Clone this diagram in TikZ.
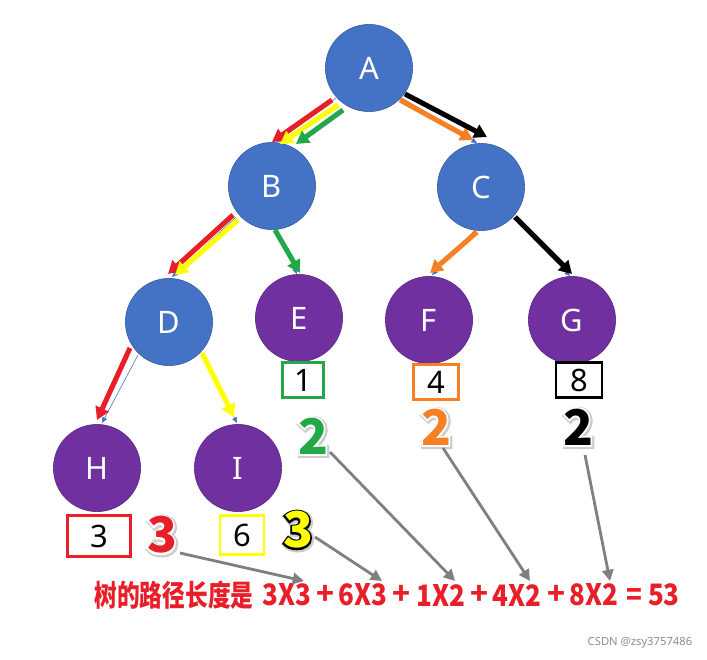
\documentclass[tikz,border=0pt]{standalone}
\usepackage{fontspec}
\usepackage{graphicx}
\setmainfont{Noto Sans}
\newfontfamily\cjk{Noto Sans CJK SC}
\newfontfamily\cjkrim{Noto Sans CJK SC}[BoldFeatures={FakeBold=7}]
\newfontfamily\cjkhalo{Noto Sans CJK SC}[BoldFeatures={FakeBold=12}]
\usetikzlibrary{arrows.meta}

\definecolor{nodeblue}{HTML}{4472C4}
\definecolor{nodepurple}{HTML}{7030A0}
\definecolor{pathred}{RGB}{232,30,40}
\definecolor{pathyellow}{HTML}{FFFF00}
\definecolor{pathgreen}{RGB}{34,168,72}
\definecolor{pathorange}{HTML}{F58025}
\definecolor{arrowgray}{HTML}{808080}

\begin{document}
\begin{tikzpicture}[
    x=0.025cm, y=-0.025cm,
    inner/.style={circle, minimum size=2.18cm, inner sep=0, fill=nodeblue,
        draw=nodeblue!80!black, thin, text=white, font=\fontsize{22}{22}\selectfont},
    leaf/.style={inner, fill=nodepurple, draw=nodepurple!80!black},
    edge/.style={nodeblue, thin, -{Triangle[length=4pt,width=3.5pt]}},
    pathline/.style={draw=#1, line width=3.6pt, -{Triangle[length=9pt,width=10pt]}},
    weight/.style={draw=#1, line width=2pt, inner sep=0, minimum height=0.88cm,
        font=\fontsize{22}{22}\selectfont},
    bignum/.style={inner sep=0, font=\cjk\bfseries\fontsize{35}{35}\selectfont},
    bigrim/.style={bignum, font=\cjkrim\bfseries\fontsize{35}{35}\selectfont},
    bighalo/.style={bignum, font=\cjkhalo\bfseries\fontsize{35}{35}\selectfont, text=black!20},
    sumarrow/.style={draw=arrowgray, line width=2pt, -{Triangle[length=8pt,width=8pt]}},
    formula/.style={inner sep=0, text=pathred, font=\cjk\bfseries\fontsize{21}{21}\selectfont}
]
    \useasboundingbox (0,0) rectangle (707,659);

    % Tree nodes
    \node[inner] (A) at (369,68) {A};
    \node[inner] (B) at (272,186) {B};
    \node[inner] (C) at (481,187) {C};
    \node[inner] (D) at (169,322) {D};
    \node[leaf] (E) at (299,318) {E};
    \node[leaf] (F) at (429,320) {F};
    \node[leaf] (G) at (572,320) {G};
    \node[leaf] (H) at (97,468) {H};
    \node[leaf] (I) at (238,468) {I};

    % Tree edges
    \draw[edge] ([shift={(-33,30)}]A.center) -- ([shift={(5,-44)}]B.center);
    \draw[edge] ([shift={(33,30)}]A.center) -- ([shift={(-4,-44)}]C.center);
    \draw[edge] ([shift={(-36,31)}]B.center) -- ([shift={(3,-45)}]D.center);
    \draw[edge] ([shift={(4,43)}]B.center) -- ([shift={(-2,-44)}]E.center);
    \draw[edge] ([shift={(-6,43)}]C.center) -- ([shift={(3,-45)}]F.center);
    \draw[edge] ([shift={(32,31)}]C.center) -- ([shift={(-2,-44)}]G.center);
    \draw[edge] ([shift={(-31,33)}]D.center) -- ([shift={(5,-45)}]H.center);
    \draw[edge] ([shift={(33,32)}]D.center) -- ([shift={(-1,-45)}]I.center);

    % Paths from the root to each leaf
    \draw[pathline=pathred] ([shift={(-37,32)}]A.center) -- ([shift={(0,-44)}]B.center);
    \draw[pathline=pathred] ([shift={(-39,29)}]B.center) -- ([shift={(-1,-48)}]D.center);
    \draw[pathline=pathred] ([shift={(-39,26)}]D.center) -- ([shift={(0,-48)}]H.center);
    \draw[pathline=pathyellow] ([shift={(-31,37)}]A.center) -- ([shift={(8,-42)}]B.center);
    \draw[pathline=pathyellow] ([shift={(-34,34)}]B.center) -- ([shift={(6,-47)}]D.center);
    \draw[pathline=pathyellow] ([shift={(33,31)}]D.center) -- ([shift={(-4,-51)}]I.center);
    \draw[pathline=pathgreen] ([shift={(-26,42)}]A.center) -- ([shift={(24,-42)}]B.center);
    \draw[pathline=pathgreen] ([shift={(3,44)}]B.center) -- ([shift={(1,-45)}]E.center);
    \draw[pathline=pathorange] ([shift={(31,32)}]A.center) -- ([shift={(-8,-47)}]C.center);
    \draw[pathline=pathorange] ([shift={(-4,45)}]C.center) -- ([shift={(1,-47)}]F.center);
    \draw[pathline=black] ([shift={(36,26)}]A.center) -- ([shift={(6,-50)}]C.center);
    \draw[pathline=black] ([shift={(34,30)}]C.center) -- ([shift={(0,-46)}]G.center);

    % Leaf weights
    \node[weight=pathgreen, minimum width=1.03cm] (wE) at (303,380) {1};
    \node[weight=pathorange, minimum width=1.12cm] (wF) at (436,382) {4};
    \node[weight=black, minimum width=1.15cm] (wG) at (579,380) {8};
    \node[weight=pathred, minimum width=1.58cm, minimum height=1.02cm] (wH) at (99,536) {3};
    \node[weight=pathyellow, minimum width=1.1cm, minimum height=0.97cm] (wI) at (242,535) {6};

    % Path lengths
    \foreach \nm/\x/\y/\col/\rim/\dg in {lvlH/162/535/pathred/white/3,
            lvlI/298/530/pathyellow/black/3, lvlE/313/436/pathgreen/white/2,
            lvlF/436/427/pathorange/white/2, lvlG/578/427/black/white/2} {
        \node[bighalo] (\nm s) at (\x+1,\y+1) {\dg};
        \node[bigrim, text=\rim] (\nm r) at (\x,\y) {\dg};
        \node[bignum, text=\col] (\nm) at (\x,\y) {\dg};
    }

    % Sum
    \node[formula] (title) at (174,595) {\scalebox{0.77}[1]{树的路径长度是}};
    \node[formula] (s1) at (287,595) {\scalebox{0.88}[1]{3X3}};
    \node[formula] (p1) at (325,595) {+};
    \node[formula] (s2) at (363,595) {\scalebox{0.88}[1]{6X3}};
    \node[formula] (p2) at (401,595) {+};
    \node[formula] (s3) at (441,595) {\scalebox{0.88}[1]{1X2}};
    \node[formula] (p3) at (479,595) {+};
    \node[formula] (s4) at (517,595) {\scalebox{0.88}[1]{4X2}};
    \node[formula] (p4) at (556,595) {+};
    \node[formula] (s5) at (594,595) {\scalebox{0.88}[1]{8X2}};
    \node[formula] (eq) at (653,595) {\scalebox{0.88}[1]{= 53}};
    \draw[sumarrow] ([shift={(18,18)}]lvlH.center) -- ([shift={(17,-14)}]s1.center);
    \draw[sumarrow] ([shift={(17,7)}]lvlI.center) -- ([shift={(19,-14)}]s2.center);
    \draw[sumarrow] ([shift={(17,16)}]lvlE.center) -- ([shift={(14,-14)}]s3.center);
    \draw[sumarrow] ([shift={(7,21)}]lvlF.center) -- ([shift={(13,-14)}]s4.center);
    \draw[sumarrow] ([shift={(7,28)}]lvlG.center) -- ([shift={(16,-14)}]s5.center);

    \node[text=black!45, font=\fontsize{8}{8}\selectfont] (mark) at (640,643) {CSDN @zsy3757486};
\end{tikzpicture}
\end{document}
